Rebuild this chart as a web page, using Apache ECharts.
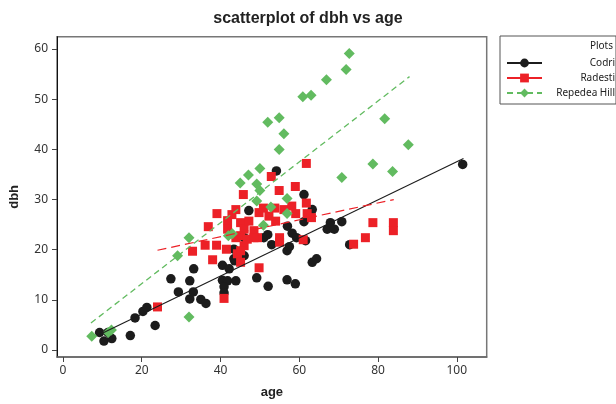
<!DOCTYPE html>
<html>
<head>
<meta charset="utf-8">
<script src="https://cdn.jsdelivr.net/npm/echarts@6/dist/echarts.min.js"></script>
<style>
  html, body { margin: 0; padding: 0; background: #fff; }
  #chart { width: 616px; height: 404px; }
</style>
</head>
<body>
<div id="chart"></div>
<script>
// age, dbh pairs
var codri = [
    [9.3, 3.5], [10.4, 1.8], [11.4, 3.5], [12.4, 2.3], [17.1, 2.9], [18.3, 6.4],
    [20.3, 7.7], [21.3, 8.5], [23.4, 4.9], [27.4, 14.2], [29.3, 11.6], [32.2, 13.8],
    [33.2, 16.2], [32.2, 10.2], [33.1, 11.6], [35.0, 10.1], [36.3, 9.3], [40.5, 16.9],
    [42.2, 16.2], [43.6, 17.8], [43.4, 18.2], [46.0, 18.8], [46.0, 22.4], [43.4, 20.1],
    [40.5, 13.9], [41.8, 13.8], [43.9, 13.8], [40.9, 12.6], [40.9, 11.4], [49.2, 14.4],
    [52.1, 12.7], [56.9, 14.0], [59.0, 13.2], [47.2, 27.8], [54.2, 35.7], [51.0, 22.4],
    [52.0, 23.0], [53.0, 21.0], [56.9, 19.8], [57.5, 20.6], [57.0, 24.7], [58.2, 23.3],
    [59.3, 22.4], [61.6, 21.8], [61.2, 25.6], [61.2, 31.0], [63.3, 28.0], [63.3, 17.5],
    [64.4, 18.2], [67.1, 24.1], [67.9, 25.4], [68.9, 24.1], [70.8, 25.6], [72.8, 21.0],
    [101.5, 37.0]
];
var radesti = [
    [24.0, 8.6], [32.9, 19.7], [36.1, 20.9], [36.9, 24.6], [38.0, 18.0], [39.0, 20.9],
    [39.1, 27.2], [40.9, 10.3], [41.5, 20.1], [41.8, 25.8], [41.8, 24.1], [42.9, 27.0],
    [43.9, 28.0], [44.3, 19.2], [45.1, 25.4], [45.1, 22.8], [45.8, 31.0], [46.0, 24.1],
    [46.0, 20.8], [46.8, 22.1], [47.2, 25.7], [48.5, 23.8], [49.4, 22.4], [49.8, 27.4],
    [49.8, 16.4], [50.9, 28.3], [52.3, 26.7], [52.9, 34.6], [53.8, 28.3], [54.0, 25.7],
    [54.9, 31.8], [55.0, 22.4], [55.0, 21.5], [56.1, 28.0], [58.1, 28.7], [59.0, 32.6],
    [59.1, 27.2], [61.0, 22.0], [61.8, 37.2], [61.8, 29.3], [62.0, 27.2], [63.1, 26.4],
    [73.8, 21.1], [76.8, 22.4], [78.7, 25.4], [83.9, 25.4], [83.9, 23.8], [45.1, 17.5],
    [45.1, 19.8], [43.9, 22.4], [48.5, 22.4]
];
var repedea = [
    [7.3, 2.75], [11.5, 3.5], [12.3, 4.0], [32.0, 6.6], [29.1, 18.8], [32.0, 22.4],
    [42.0, 22.8], [43.0, 23.2], [50.9, 24.9], [45.0, 33.3], [47.1, 34.9], [50.0, 36.2],
    [49.2, 33.1], [50.0, 31.8], [49.2, 29.7], [52.8, 28.5], [56.9, 30.2], [56.9, 27.2],
    [54.9, 40.0], [72.7, 59.1], [71.9, 55.9], [66.9, 53.9], [60.9, 50.5], [63.0, 50.8],
    [52.0, 45.4], [54.9, 46.3], [56.1, 43.1], [81.7, 46.1], [87.7, 40.9], [78.7, 37.1],
    [83.7, 35.6], [70.8, 34.4]
];
// fitted line end points
var codriFit = [[10.1, 3.4], [101.7, 38.2]];
var radestiFit = [[24.0, 19.9], [84.0, 30.0]];
var repedeaFit = [[7.1, 5.4], [88.0, 54.5]];

var xTicks = [0, 20, 40, 60, 80, 100];
var yTicks = [0, 10, 20, 30, 40, 50, 60];

var black = '#1c1c1c', red = '#ec2127', green = '#62bb60';
var font = 'Noto Sans';

var chart = echarts.init(document.getElementById('chart'));
var option = {
    animation: false,
    title: {
        text: 'scatterplot of dbh vs age',
        left: 'center',
        top: 6,
        textStyle: {fontFamily: 'Liberation Sans', fontSize: 16, fontWeight: 'bold', color: '#222'}
    },
    legend: {
        left: 500,
        top: 36,
        orient: 'vertical',
        backgroundColor: '#fff',
        borderColor: '#555',
        borderWidth: 1,
        padding: [21, 1, 5, 6],
        itemWidth: 35,
        itemHeight: 11,
        itemGap: 3,
        formatter: '{a|{name}}',
        textStyle: {
            fontFamily: font, fontSize: 10, color: '#222', lineHeight: 12,
            rich: {a: {width: 68, align: 'right', fontFamily: font, fontSize: 10}}
        },
        data: [
            {name: 'Codri'},
            {name: 'Radesti', lineStyle: {type: 'solid'}},
            {name: 'Repedea Hill'}
        ]
    },
    graphic: [{
        type: 'text', right: 3, top: 41, z: 100,
        style: {text: 'Plots', fontFamily: font, fontSize: 10, fill: '#222'}
    }],
    grid: {
        left: 55.7, right: 129.3, top: 36.7, bottom: 43,
        show: true, borderColor: '#777', borderWidth: 1.5
    },
    xAxis: {
        type: 'value', min: -1.52, max: 107.6,
        name: 'age', nameLocation: 'middle', nameGap: 29,
        nameTextStyle: {fontFamily: 'Liberation Sans', fontSize: 13, fontWeight: 'bold', color: '#222'},
        axisLine: {onZero: false, lineStyle: {color: '#666', width: 1.5}},
        axisTick: {customValues: xTicks, length: 5, lineStyle: {color: '#444'}},
        axisLabel: {customValues: xTicks, margin: 8, fontFamily: font, fontSize: 12, color: '#333'},
        splitLine: {show: false}
    },
    yAxis: {
        type: 'value', min: -1.38, max: 62.46,
        name: 'dbh', nameLocation: 'middle', nameGap: 36,
        nameTextStyle: {fontFamily: 'Liberation Sans', fontSize: 13, fontWeight: 'bold', color: '#222'},
        axisLine: {onZero: false, lineStyle: {color: '#111', width: 1}},
        axisTick: {customValues: yTicks, length: 5, lineStyle: {color: '#444'}},
        axisLabel: {customValues: yTicks, margin: 9, fontFamily: font, fontSize: 12, color: '#333'},
        splitLine: {show: false}
    },
    series: [
        {
            name: 'Codri', type: 'line', data: codriFit, showSymbol: false,
            symbol: 'circle', symbolSize: 9, itemStyle: {color: black},
            lineStyle: {color: black, width: 1.1}, silent: true, z: 3
        },
        {
            name: 'Radesti', type: 'line', data: radestiFit, showSymbol: false,
            symbol: 'rect', symbolSize: 9, itemStyle: {color: red},
            lineStyle: {color: red, width: 1.2, type: [9, 5]}, silent: true, z: 3
        },
        {
            name: 'Repedea Hill', type: 'line', data: repedeaFit, showSymbol: false,
            symbol: 'diamond', symbolSize: 10, itemStyle: {color: green},
            lineStyle: {color: green, width: 1.3, type: [6, 4]}, silent: true, z: 3
        },
        {
            name: 'Codri', type: 'scatter', data: codri,
            symbol: 'circle', symbolSize: 9.5, itemStyle: {color: black, opacity: 1}
        },
        {
            name: 'Radesti', type: 'scatter', data: radesti,
            symbol: 'rect', symbolSize: 9, itemStyle: {color: red, opacity: 1}
        },
        {
            name: 'Repedea Hill', type: 'scatter', data: repedea,
            symbol: 'diamond', symbolSize: 11, itemStyle: {color: green, opacity: 1}
        }
    ]
};
chart.setOption(option);
</script>
</body>
</html>
